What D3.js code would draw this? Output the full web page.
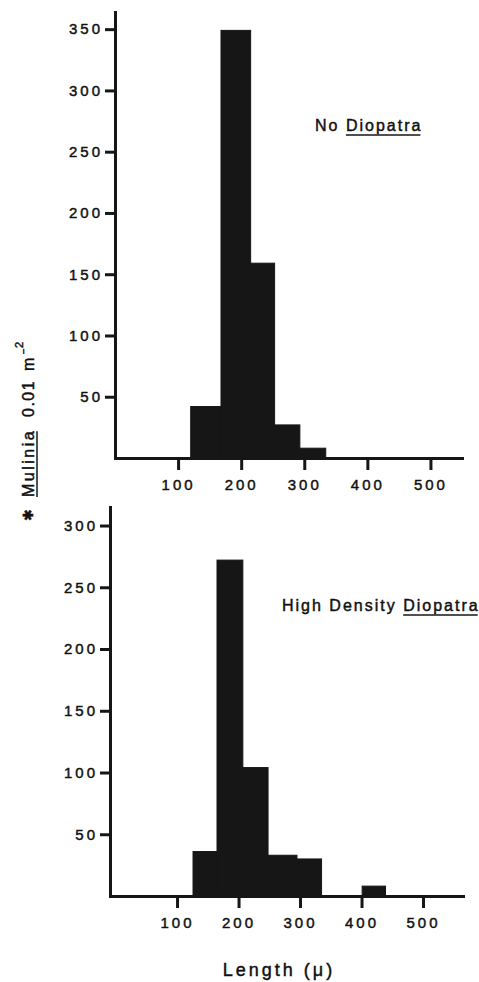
<!DOCTYPE html>
<head>
  <meta charset="utf-8">
  <script src="https://d3js.org/d3.v7.min.js"></script>
  <style>
    body { margin:0; background:#fff; }
    text { font-family:"Liberation Sans", Arial, sans-serif; fill:#111; stroke:#111; stroke-width:0.45px; }
  </style>
</head>
<body>
<div id=figure></div>
<script>
// tick labels
var xTicks=[100,200,300,400,500];
var yTicksTop=[50,100,150,200,250,300,350];
var yTicksBot=[50,100,150,200,250,300];

// top panel : no Diopatra (length classes in microns, count per 0.01 m2)
var binLoTop=[120,168,215,253,293];
var binHiTop=[168,215,253,293,334];
var countTop=[42,349,159,27,8];

// bottom panel : high density Diopatra
var binLoBot=[126,165,207,248,295,401];
var binHiBot=[165,207,248,295,335,439];
var countBot=[36,272,104,33,30,8];

var width=479, height=982;
var ink="#161616";

var svg=d3.select("#figure").append("svg")
  .attr("width",width)
  .attr("height",height);

function panel(o){
  var x=d3.scaleLinear().domain(o.xd).range(o.xr);
  var y=d3.scaleLinear().domain(o.yd).range(o.yr);
  var g=svg.append("g");

  g.selectAll(".bar").data(o.count).enter().append("rect")
    .attr("class","bar")
    .attr("x",function(d,i){return x(o.lo[i]);})
    .attr("width",function(d,i){return x(o.hi[i])-x(o.lo[i]);})
    .attr("y",function(d){return y(d);})
    .attr("height",function(d){return y(0)-y(d);})
    .attr("fill",ink)
    .attr("stroke",ink)
    .attr("stroke-width",1);

  var xa=g.append("g")
    .attr("transform","translate(0,"+y(0)+")")
    .call(d3.axisBottom(x).tickValues(xTicks).tickSize(12).tickSizeOuter(0).tickPadding(9));

  var ya=g.append("g")
    .attr("transform","translate("+o.axisX+",0)")
    .call(d3.axisLeft(y).tickValues(o.yTicks).tickSize(10).tickSizeOuter(0).tickPadding(2));

  [xa,ya].forEach(function(a){
    a.attr("font-family",null).attr("font-size",null);
    a.select(".domain").attr("stroke",ink).attr("stroke-width",3).attr("stroke-linecap","square");
    a.selectAll(".tick line").attr("stroke",ink).attr("stroke-width",3);
    a.selectAll(".tick text").attr("fill",ink)
      .style("font-size","15px").style("letter-spacing","3px");
  });

  // annotation with underlined genus name
  var t=g.append("text")
    .attr("x",o.noteX).attr("y",o.noteY)
    .style("font-size","16px").style("letter-spacing","2px");
  t.append("tspan").text(o.note);
  var gen=t.append("tspan").text("Diopatra");
  var b=gen.node().getBBox();
  g.append("line")
    .attr("x1",b.x).attr("x2",b.x+b.width-2)
    .attr("y1",o.noteY+4).attr("y2",o.noteY+4)
    .attr("stroke",ink).attr("stroke-width",1.5);
}

panel({
  xd:[0,550], xr:[115,462],
  yd:[0,364], yr:[458,12],
  axisX:115, yTicks:yTicksTop,
  lo:binLoTop, hi:binHiTop, count:countTop,
  note:"No ", noteX:315, noteY:131
});

panel({
  xd:[-9,565], xr:[110,463],
  yd:[0,315], yr:[896,507],
  axisX:110, yTicks:yTicksBot,
  lo:binLoBot, hi:binHiBot, count:countBot,
  note:"High Density ", noteX:282, noteY:611
});

// y axis title, rotated (reads bottom to top)
var yl=svg.append("g").attr("transform","translate(34,521) rotate(-90)");
var yt=yl.append("text").style("font-size","16px").style("letter-spacing","2.5px");
yt.append("tspan").attr("x",0).attr("dy",-1).text("\u2731")
  .style("font-family","DejaVu Sans").style("font-size","14px").style("letter-spacing","0px");
var mul=yt.append("tspan").attr("x",24).attr("dy",1).text("Mulinia");
yt.append("tspan").attr("x",104).text("0.01").style("letter-spacing","1.5px");
yt.append("tspan").attr("x",150).text("m");
yt.append("tspan").attr("x",167).attr("dy",-7).text("\u2212").style("font-size","10px");
yt.append("tspan").attr("x",173).attr("dy",-4).text("2").style("font-size","11px");
var mb=mul.node().getBBox();
yl.append("line")
  .attr("x1",mb.x).attr("x2",mb.x+mb.width-2.5)
  .attr("y1",3).attr("y2",3)
  .attr("stroke",ink).attr("stroke-width",1.5);

// x axis title
svg.append("text")
  .attr("x",279).attr("y",976)
  .attr("text-anchor","middle")
  .style("font-size","18px").style("letter-spacing","3px")
  .text("Length (\u03bc)");
</script>
</body>
